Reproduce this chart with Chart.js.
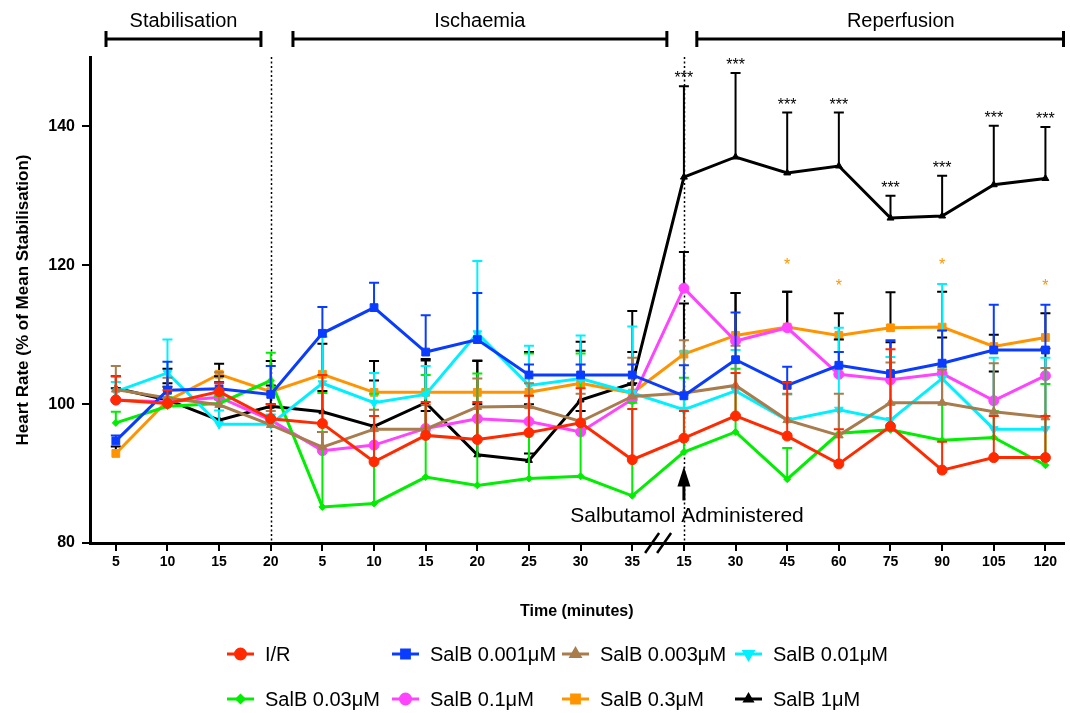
<!DOCTYPE html>
<html>
<head>
<meta charset="utf-8">
<script src="https://cdn.jsdelivr.net/npm/chart.js@4.4.1/dist/chart.umd.min.js"></script>
<style>
  html, body { margin: 0; padding: 0; background: #fff; }
</style>
</head>
<body>
<canvas id="hr-chart" width="1070" height="713"></canvas>
<script>
// time points: stabilisation (4), ischaemia (7), reperfusion (8)
var timeLabels = ["5", "10", "15", "20", "5", "10", "15", "20", "25", "30", "35",
                  "15", "30", "45", "60", "75", "90", "105", "120"];
var yTicks = [80, 100, 120, 140];

// mean heart rate (% of mean stabilisation) and SEM per group
var ir        = [100.6, 100.1, 101.8, 97.9, 97.2, 91.7, 95.5, 94.9, 95.9, 97.3, 92.0, 95.1, 98.3, 95.4, 91.4, 96.8, 90.5, 92.3, 92.3];
var irErr     = [3.4, 1.9, 1.2, 2.1, 7.0, 6.6, 4.8, 5.4, 5.3, 5.0, 7.3, 3.9, 6.2, 7.7, 5.0, 11.1, 4.1, 6.0, 6.0];
var salb0001    = [94.7, 102.0, 102.2, 101.4, 110.2, 113.9, 107.5, 109.3, 104.2, 104.2, 104.2, 101.2, 106.4, 102.7, 105.6, 104.4, 105.9, 107.8, 107.8];
var salb0001Err = [0.8, 4.1, 1.0, 4.1, 3.8, 3.6, 5.3, 6.7, 1.5, 1.5, 1.5, 4.4, 6.8, 2.7, 1.9, 4.8, 4.7, 6.5, 6.5];
var salb0003    = [102.1, 100.9, 99.9, 97.0, 93.8, 96.4, 96.4, 99.6, 99.7, 97.5, 101.1, 101.6, 102.7, 97.7, 95.5, 100.2, 100.2, 98.9, 98.1];
var salb0003Err = [3.4, 2.9, 4.7, 2.0, 2.2, 2.8, 3.5, 4.1, 3.3, 4.0, 5.6, 7.6, 5.7, 3.8, 6.0, 5.8, 4.8, 7.0, 7.1];
var salb001     = [101.8, 104.5, 97.1, 97.1, 103.0, 100.2, 101.4, 110.2, 102.7, 103.7, 101.6, 99.2, 101.9, 97.7, 99.2, 97.7, 103.7, 96.4, 96.4];
var salb001Err  = [1.4, 4.8, 2.0, 1.4, 6.7, 4.3, 4.1, 10.4, 5.7, 6.2, 9.6, 8.4, 5.9, 3.7, 11.8, 9.1, 13.6, 10.3, 10.3];
var salb003     = [97.3, 99.7, 100.1, 103.4, 85.2, 85.7, 89.5, 88.3, 89.3, 89.6, 86.8, 93.1, 96.0, 89.2, 95.8, 96.3, 94.8, 95.2, 91.2];
var salb003Err  = [1.6, 1.3, 1.0, 4.0, 16.4, 15.8, 14.7, 16.1, 18.0, 17.7, 13.4, 10.7, 9.1, 4.5, 3.2, 3.7, 10.5, 3.8, 11.7];
var salb01      = [100.6, 100.3, 101.0, 97.7, 93.3, 94.1, 96.5, 97.9, 97.5, 96.0, 100.7, 116.7, 109.1, 111.0, 104.3, 103.5, 104.4, 100.5, 104.1];
var salb01Err   = [1.7, 2.7, 3.0, 2.3, 2.7, 2.9, 2.5, 2.1, 2.5, 3.0, 2.3, 5.2, 6.9, 5.2, 5.0, 5.4, 5.2, 4.2, 3.9];
var salb03      = [92.9, 100.5, 104.3, 101.8, 104.3, 101.7, 101.7, 101.7, 101.7, 103.0, 101.6, 107.2, 109.9, 111.1, 109.9, 111.0, 111.1, 108.3, 109.6];
var salb03Err   = [1.0, 2.0, 1.5, 4.4, 4.4, 4.5, 4.6, 4.5, 5.8, 4.7, 5.9, 7.3, 6.1, 5.1, 3.2, 5.1, 5.1, 1.7, 3.5];
var salb1       = [102.3, 100.6, 97.7, 99.7, 98.9, 96.8, 100.2, 92.7, 91.9, 100.6, 103.0, 132.7, 135.6, 133.3, 134.3, 126.8, 127.1, 131.6, 132.5];
var salb1Err    = [1.7, 4.5, 3.0, 3.0, 3.0, 6.6, 6.3, 13.6, 1.0, 8.4, 10.4, 13.1, 12.1, 8.7, 7.7, 3.2, 5.8, 8.5, 7.4];

// significance marks (index of time point)
var sigSalb1 = [11, 12, 13, 14, 15, 16, 17, 18];
var sigSalb03 = [13, 14, 16, 18];

var FONT = "Arial, 'Liberation Sans', sans-serif";

var groups = [
  { label: "I/R",           data: ir,       err: irErr,       color: "#ff2a00", errColor: "#ff2a00", style: "circle",   rot: 0,   r: 5 },
  { label: "SalB 0.001μM",  data: salb0001, err: salb0001Err, color: "#0a3cff", errColor: "#0a3cff", style: "rect",     rot: 0,   r: 5.5 },
  { label: "SalB 0.003μM",  data: salb0003, err: salb0003Err, color: "#a87c4c", errColor: "#a87c4c", style: "triangle", rot: 0,   r: 5 },
  { label: "SalB 0.01μM",   data: salb001,  err: salb001Err,  color: "#00f0ff", errColor: "#00f0ff", style: "triangle", rot: 180, r: 5 },
  { label: "SalB 0.03μM",   data: salb003,  err: salb003Err,  color: "#00ee00", errColor: "#00ee00", style: "rectRot",  rot: 0,   r: 3.5 },
  { label: "SalB 0.1μM",    data: salb01,   err: salb01Err,   color: "#ff44ff", errColor: "#000000", style: "circle",   rot: 0,   r: 5 },
  { label: "SalB 0.3μM",    data: salb03,   err: salb03Err,   color: "#ff9400", errColor: "#000000", style: "rect",     rot: 0,   r: 5.5 },
  { label: "SalB 1μM",      data: salb1,    err: salb1Err,    color: "#000000", errColor: "#000000", style: "triangle", rot: 0,   r: 4 }
];

var extras = {
  id: 'hrExtras',
  beforeDatasetsDraw: function (chart) {
    var ctx = chart.ctx, xs = chart.scales.x, a = chart.chartArea;
    ctx.save();
    ctx.strokeStyle = '#000';
    ctx.lineWidth = 1.5;
    ctx.setLineDash([2, 2.5]);
    [3, 11].forEach(function (i) {
      var x = Math.round(xs.getPixelForValue(i)) + 0.5;
      ctx.beginPath();
      ctx.moveTo(x, a.top);
      ctx.lineTo(x, a.bottom);
      ctx.stroke();
    });
    ctx.restore();
  },
  beforeDatasetDraw: function (chart, args) {
    var g = groups[args.index];
    var ctx = chart.ctx, xs = chart.scales.x, ys = chart.scales.y;
    ctx.save();
    ctx.strokeStyle = g.errColor;
    ctx.lineWidth = 2;
    g.data.forEach(function (v, i) {
      var x = xs.getPixelForValue(i);
      var y0 = ys.getPixelForValue(v);
      var y1 = ys.getPixelForValue(v + g.err[i]);
      ctx.beginPath();
      ctx.moveTo(x, y0);
      ctx.lineTo(x, y1);
      ctx.moveTo(x - 5, y1);
      ctx.lineTo(x + 5, y1);
      ctx.stroke();
    });
    ctx.restore();
  },
  afterDatasetsDraw: function (chart) {
    var ctx = chart.ctx, xs = chart.scales.x, ys = chart.scales.y, a = chart.chartArea;
    ctx.save();

    // significance stars
    ctx.textAlign = 'center';
    ctx.textBaseline = 'alphabetic';
    ctx.font = '16px ' + FONT;
    ctx.fillStyle = '#000';
    sigSalb1.forEach(function (i) {
      ctx.fillText('***', xs.getPixelForValue(i), ys.getPixelForValue(salb1[i] + salb1Err[i]) - 3);
    });
    ctx.fillStyle = '#ff9400';
    sigSalb03.forEach(function (i) {
      ctx.fillText('*', xs.getPixelForValue(i), ys.getPixelForValue(salb03[i] + salb03Err[i]) - 22);
    });

    // salbutamol arrow + label
    var ax = xs.getPixelForValue(11);
    var ay = ys.getPixelForValue(85.7);
    ctx.fillStyle = '#000';
    ctx.strokeStyle = '#000';
    ctx.lineWidth = 3;
    ctx.beginPath();
    ctx.moveTo(ax, ay - 3);
    ctx.lineTo(ax, ay - 20);
    ctx.stroke();
    ctx.beginPath();
    ctx.moveTo(ax, ay - 37);
    ctx.lineTo(ax - 6.5, ay - 17);
    ctx.lineTo(ax + 6.5, ay - 17);
    ctx.closePath();
    ctx.fill();
    ctx.font = '21px ' + FONT;
    ctx.textBaseline = 'middle';
    ctx.fillStyle = '#000';
    ctx.fillText('Salbutamol Administered', xs.getPixelForValue(11.06), ys.getPixelForValue(83.8));

    // axis break marks
    var bx = xs.getPixelForValue(10.5);
    ctx.lineWidth = 2.5;
    ctx.beginPath();
    [-6, 6].forEach(function (d) {
      ctx.moveTo(bx + d - 7, a.bottom + 10);
      ctx.lineTo(bx + d + 7, a.bottom - 10);
    });
    ctx.stroke();
    ctx.restore();
  },
  afterDraw: function (chart) {
    var ctx = chart.ctx, xs = chart.scales.x;
    ctx.save();

    // phase brackets above the plot
    var phases = [
      { name: 'Stabilisation', from: -0.19, to: 2.81, mid: 1.31 },
      { name: 'Ischaemia',     from: 3.43,  to: 10.67, mid: 7.05 },
      { name: 'Reperfusion',   from: 11.25, to: 18.35, mid: 15.2 }
    ];
    ctx.strokeStyle = '#000';
    ctx.fillStyle = '#000';
    ctx.lineWidth = 3;
    ctx.font = '20px ' + FONT;
    ctx.textAlign = 'center';
    ctx.textBaseline = 'middle';
    phases.forEach(function (p) {
      var x1 = xs.getPixelForValue(p.from), x2 = xs.getPixelForValue(p.to);
      ctx.beginPath();
      ctx.moveTo(x1, 39); ctx.lineTo(x2, 39);
      ctx.moveTo(x1, 31); ctx.lineTo(x1, 47);
      ctx.moveTo(x2, 31); ctx.lineTo(x2, 47);
      ctx.stroke();
      ctx.fillText(p.name, xs.getPixelForValue(p.mid), 21);
    });

    // legend, 2 rows x 4 columns
    var colX = [265, 430, 600, 773], rowY = [654, 699];
    ctx.textAlign = 'left';
    ctx.font = '20px ' + FONT;
    groups.forEach(function (g, k) {
      var tx = colX[k % 4], ty = rowY[Math.floor(k / 4)];
      ctx.strokeStyle = g.color;
      ctx.fillStyle = g.color;
      ctx.lineWidth = 3;
      ctx.beginPath();
      ctx.moveTo(tx - 38, ty);
      ctx.lineTo(tx - 11, ty);
      ctx.stroke();
      Chart.helpers.drawPoint(ctx, { pointStyle: g.style, rotation: g.rot, radius: g.r, borderWidth: 1 }, tx - 24.5, ty);
      ctx.fillStyle = '#000';
      ctx.fillText(g.label, tx, ty + 1);
    });
    ctx.restore();
  }
};

new Chart(document.getElementById("hr-chart"), {
  type: 'line',
  data: {
    datasets: groups.map(function (g) {
      return {
        label: g.label,
        data: g.data.map(function (v, i) { return { x: i, y: v }; }),
        borderColor: g.color,
        backgroundColor: g.color,
        borderWidth: 3,
        tension: 0,
        pointStyle: g.style,
        pointRotation: g.rot,
        pointRadius: g.r,
        pointBorderWidth: 1,
        pointBackgroundColor: g.color,
        pointBorderColor: g.color
      };
    })
  },
  options: {
    responsive: false,
    animation: false,
    devicePixelRatio: 1,
    layout: { padding: { top: 57, right: 2, left: 0, bottom: 0 } },
    plugins: { legend: { display: false }, tooltip: { enabled: false } },
    scales: {
      x: {
        type: 'linear',
        min: -0.5,
        max: 18.35,
        afterBuildTicks: function (s) { s.ticks = timeLabels.map(function (l, i) { return { value: i }; }); },
        afterFit: function (s) { s.height = 170; },
        ticks: {
          autoSkip: false,
          maxRotation: 0,
          padding: 3,
          color: '#000',
          font: { family: FONT, size: 14, weight: 'bold' },
          callback: function (v) { return timeLabels[v]; }
        },
        grid: { drawOnChartArea: false, drawTicks: true, tickLength: 8, color: '#000', lineWidth: 2 },
        border: { display: true, color: '#000', width: 3 },
        title: {
          display: true,
          text: 'Time (minutes)',
          color: '#000',
          font: { family: FONT, size: 16, weight: 'bold' },
          padding: { top: 0, bottom: 92 }
        }
      },
      y: {
        min: 80,
        max: 150,
        afterBuildTicks: function (s) { s.ticks = yTicks.map(function (v) { return { value: v }; }); },
        afterFit: function (s) { s.width = 90; },
        ticks: {
          padding: 7,
          color: '#000',
          font: { family: FONT, size: 16, weight: 'bold' }
        },
        grid: { drawOnChartArea: false, drawTicks: true, tickLength: 8, color: '#000', lineWidth: 2 },
        border: { display: true, color: '#000', width: 3 },
        title: {
          display: true,
          text: 'Heart Rate (% of Mean Stabilisation)',
          color: '#000',
          font: { family: FONT, size: 17, weight: 'bold' },
          padding: { top: 13, bottom: 0 }
        }
      }
    }
  },
  plugins: [extras]
});
</script>
</body>
</html>
